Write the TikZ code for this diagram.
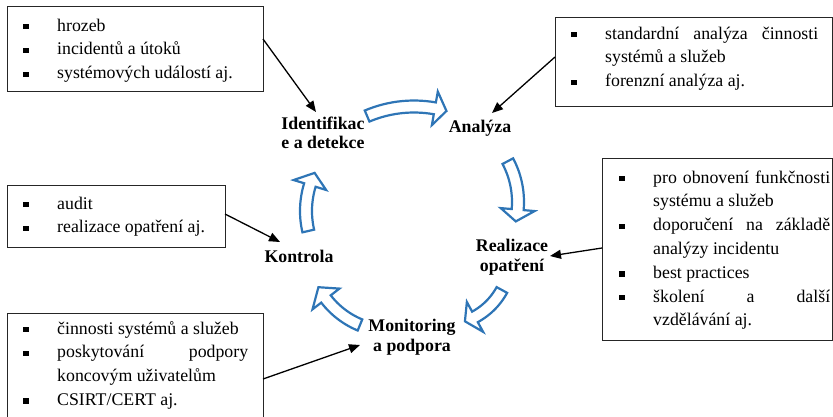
\documentclass[tikz,border=0pt]{standalone}
\usepackage{fontspec}
\setmainfont{Liberation Serif}
\usetikzlibrary{arrows.meta}
\definecolor{arrblue}{RGB}{46,117,182}
\hyphenpenalty=10000
\exhyphenpenalty=10000
\tolerance=9999
\newcommand\bul{\llap{\makebox[34pt][l]{\rule[1.6pt]{5.5pt}{5.5pt}}}}
\newcommand\itm[1]{\noindent\bul #1\par}
% cx, cy, R, start angle, head-base angle, tip angle
\newcommand\cycarr[6]{%
  \draw[blockarr]
    plot[domain=#4:#5, samples=16] ({#1+(#3+6)*cos(\x)},{#2+(#3+6)*sin(\x)})
    -- ({#1+(#3+17)*cos(#5)},{#2+(#3+17)*sin(#5)})
    -- ({#1+#3*cos(#6)},{#2+#3*sin(#6)})
    -- ({#1+(#3-17)*cos(#5)},{#2+(#3-17)*sin(#5)})
    -- plot[domain=#5:#4, samples=16] ({#1+(#3-6)*cos(\x)},{#2+(#3-6)*sin(\x)})
    -- cycle;}
\tikzset{
  boxst/.style={draw=black!85, line width=0.9pt, inner sep=0pt, anchor=north west},
  txt/.style={anchor=base west, inner sep=0pt, align=justify, font=\fontsize{17.8}{23.8}\selectfont},
  lbl/.style={font=\fontsize{17.8}{19.5}\selectfont\bfseries, align=center, inner sep=1pt},
  conn/.style={line width=1.3pt, -{Triangle[length=11pt,width=9pt]}},
  blockarr/.style={draw=arrblue, line width=2.2pt, fill=white, line join=miter}
}
\begin{document}
\begin{tikzpicture}[x=1pt,y=-1pt]
\useasboundingbox (0,0) rectangle (833,416);
\clip (0,0) rectangle (833,416);

% boxes
\node[boxst, minimum width=256pt, minimum height=85pt] (b1) at (7,6) {};
\node[boxst, minimum width=277pt, minimum height=89pt] (b2) at (555,17) {};
\node[boxst, minimum width=230pt, minimum height=182pt] (b3) at (602,158) {};
\node[boxst, minimum width=256pt, minimum height=120pt] (b4) at (7,313) {};
\node[boxst, minimum width=218pt, minimum height=62pt] (b5) at (7,185) {};

% box texts
\node[txt, text width=200pt] (t1) at (57,31) {\itm{hrozeb}\itm{incidentů a útoků}\itm{systémových událostí aj.}};
\node[txt, text width=213pt] (t2) at (605,39) {\itm{standardní analýza činnosti systémů a služeb}\itm{forenzní analýza aj.}};
\node[txt, text width=177pt] (t3) at (653,183) {\itm{pro obnovení funkčnosti systému a služeb}\itm{doporučení na základě analýzy incidentu}\itm{best practices}\itm{školení a další vzdělávání aj.}};
\node[txt, text width=191pt] (t4) at (57,334) {\itm{činnosti systémů a služeb}\itm{poskytování podpory koncovým uživatelům}\itm{CSIRT/CERT aj.}};
\node[txt, text width=160pt] (t5) at (57,209) {\itm{audit}\itm{realizace opatření aj.}};

% cycle labels
\node[lbl] (ident) at (323,133) {Identifikac\\e a detekce};
\node[lbl] (anal) at (480,128) {Analýza};
\node[lbl] (real) at (512,257) {Realizace\\opatření};
\node[lbl] (mon) at (412,337) {Monitoring\\a podpora};
\node[lbl] (kon) at (299,256) {Kontrola};

% blue block arrows
\cycarr{414}{226.5}{120}{-113}{-80}{-74.3}
\cycarr{431}{202}{87}{-28}{5}{12.9}
\cycarr{443}{258}{67}{28.5}{61.5}{70.9}
\cycarr{391.5}{248.5}{82.7}{112.4}{142.4}{152.1}
\cycarr{394.9}{211}{88.9}{167}{197}{205.4}

% connectors
\coordinate (s1) at (263,39);  \coordinate (e1) at (316,112);
\coordinate (s2) at (555,57);  \coordinate (e2) at (492,113);
\coordinate (s3) at (602,248); \coordinate (e3) at (550,256);
\coordinate (s4) at (225,214); \coordinate (e4) at (280,242);
\coordinate (s5) at (263,379); \coordinate (e5) at (360,345);
\draw[conn] (s1) -- (e1);
\draw[conn] (s2) -- (e2);
\draw[conn] (s3) -- (e3);
\draw[conn] (s4) -- (e4);
\draw[conn] (s5) -- (e5);
\end{tikzpicture}
\end{document}
